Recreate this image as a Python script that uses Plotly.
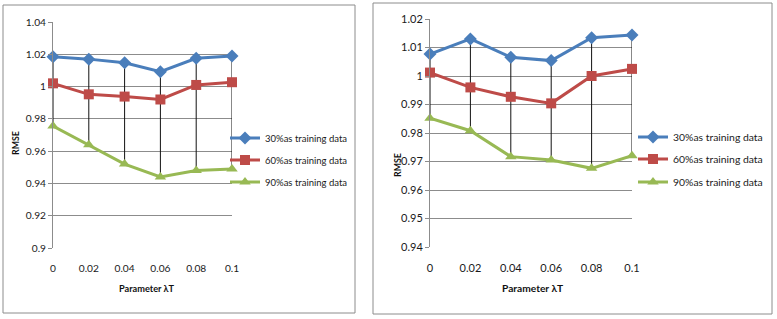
import plotly.graph_objects as go

# ---------------- data ----------------
lambda_t = [0, 0.02, 0.04, 0.06, 0.08, 0.1]
x_tick_labels = ["0", "0.02", "0.04", "0.06", "0.08", "0.1"]
series_names = ["30%as training data", "60%as training data", "90%as training data"]

left_30 = [1.0185, 1.017, 1.0148, 1.0092, 1.0175, 1.019]
left_60 = [1.002, 0.9952, 0.9938, 0.992, 1.001, 1.0027]
left_90 = [0.9755, 0.964, 0.952, 0.944, 0.948, 0.949]
left_y_ticks = [0.9, 0.92, 0.94, 0.96, 0.98, 1.0, 1.02, 1.04]
left_y_labels = ["0.9", "0.92", "0.94", "0.96", "0.98", "1", "1.02", "1.04"]

right_30 = [1.0077, 1.013, 1.0066, 1.0054, 1.0134, 1.0144]
right_60 = [1.0012, 0.996, 0.9927, 0.9904, 1.0, 1.0025]
right_90 = [0.9852, 0.9808, 0.9717, 0.9705, 0.9676, 0.972]
right_y_ticks = [0.94, 0.95, 0.96, 0.97, 0.98, 0.99, 1.0, 1.01, 1.02]
right_y_labels = ["0.94", "0.95", "0.96", "0.97", "0.98", "0.99", "1", "1.01", "1.02"]

# ---------------- style ----------------
W, H = 777, 319
colors = ["#4A7EBB", "#BE4B48", "#98B954"]
symbols = ["diamond", "square", "triangle-up"]
msizes = [10, 10, 10]
FONT = "Lato"
TXT = "#1a1a1a"


def px_x(p):
    return p / W


def px_y(p):
    return 1 - p / H


fig = go.Figure()
legend_layout = {}


def add_chart(xa, ya, leg_names, ys, leg_x, leg_rows, leg_size):
    # high-low lines (from the highest to the lowest series value at each category)
    hx, hy = [], []
    for i, x in enumerate(lambda_t):
        vals = [s[i] for s in ys]
        hx += [x, x, None]
        hy += [max(vals), min(vals), None]
    fig.add_trace(go.Scatter(x=hx, y=hy, mode="lines", line=dict(color="#111111", width=1),
                             xaxis=xa, yaxis=ya, showlegend=False, hoverinfo="skip",
                             cliponaxis=False))
    for k, s in enumerate(ys):
        fig.add_trace(go.Scatter(
            x=lambda_t, y=s, mode="lines+markers", name=series_names[k],
            line=dict(color=colors[k], width=3),
            marker=dict(symbol=symbols[k], size=msizes[k], color=colors[k]),
            xaxis=xa, yaxis=ya, legend=leg_names[k], cliponaxis=False))
        legend_layout[leg_names[k]] = dict(
            x=px_x(leg_x), y=px_y(leg_rows[k]), xanchor="left", yanchor="middle",
            bgcolor="rgba(0,0,0,0)", font=dict(family=FONT, size=leg_size, color=TXT),
            itemwidth=30, borderwidth=0)


add_chart("x", "y", ["legend", "legend2", "legend3"], [left_30, left_60, left_90],
          225, [138, 160, 182], 9.5)
add_chart("x2", "y2", ["legend4", "legend5", "legend6"], [right_30, right_60, right_90],
          633, [137, 159, 182], 10.4)


def xaxis_cfg(dom, anchor, size):
    return dict(domain=dom, anchor=anchor, range=[0, 0.1], tickvals=lambda_t,
                ticktext=x_tick_labels, showgrid=False, zeroline=False, showline=False,
                ticks="outside", ticklen=11, tickcolor="rgba(0,0,0,0)",
                tickfont=dict(family=FONT, size=size, color=TXT), fixedrange=True,
                automargin=False)


def yaxis_cfg(dom, anchor, rng, vals, labels, size):
    return dict(domain=dom, anchor=anchor, range=rng, tickvals=vals, ticktext=labels,
                showgrid=True, gridcolor="#8c8c8c", gridwidth=1, zeroline=False,
                showline=True, linecolor="#8c8c8c", linewidth=1, ticks="outside",
                ticklen=4, tickcolor="#8c8c8c",
                tickfont=dict(family=FONT, size=size, color=TXT), fixedrange=True,
                automargin=False)


fig.update_layout(
    width=W, height=H,
    margin=dict(l=0, r=0, t=0, b=0, pad=0, autoexpand=False),
    paper_bgcolor="white", plot_bgcolor="white",
    font=dict(family=FONT, size=11, color=TXT),
    xaxis=xaxis_cfg([px_x(53), px_x(232)], "y", 10.2),
    yaxis=yaxis_cfg([px_y(248), px_y(22)], "x", [0.9, 1.04], left_y_ticks, left_y_labels, 10.2),
    xaxis2=xaxis_cfg([px_x(430), px_x(632)], "y2", 11),
    yaxis2=yaxis_cfg([px_y(247), px_y(19)], "x2", [0.94, 1.02], right_y_ticks, right_y_labels, 11),
    shapes=[
        dict(type="rect", xref="paper", yref="paper", x0=px_x(3), x1=px_x(355),
             y0=px_y(313), y1=px_y(5), line=dict(color="#8c8c8c", width=1)),
        dict(type="rect", xref="paper", yref="paper", x0=px_x(373), x1=px_x(772),
             y0=px_y(314), y1=px_y(3), line=dict(color="#8c8c8c", width=1)),
    ],
    annotations=[
        dict(text="<b>RMSE</b>", xref="paper", yref="paper", x=px_x(15), y=px_y(143),
             xanchor="center", yanchor="middle", showarrow=False, textangle=-90,
             font=dict(family=FONT, size=8.8, color="#111111")),
        dict(text="<b>RMSE</b>", xref="paper", yref="paper", x=px_x(397), y=px_y(165),
             xanchor="center", yanchor="middle", showarrow=False, textangle=-90,
             font=dict(family=FONT, size=8.8, color="#111111")),
        dict(text="<b>Parameter λT</b>", xref="paper", yref="paper", x=px_x(147), y=px_y(288),
             xanchor="center", yanchor="middle", showarrow=False,
             font=dict(family=FONT, size=9.2, color="#111111")),
        dict(text="<b>Parameter λT</b>", xref="paper", yref="paper", x=px_x(532), y=px_y(288),
             xanchor="center", yanchor="middle", showarrow=False,
             font=dict(family=FONT, size=10.2, color="#111111")),
    ],
    **legend_layout,
)

fig.write_html("out.html", config={"displayModeBar": False},
               post_script="document.body.style.margin='0';document.body.style.overflow='hidden';")
